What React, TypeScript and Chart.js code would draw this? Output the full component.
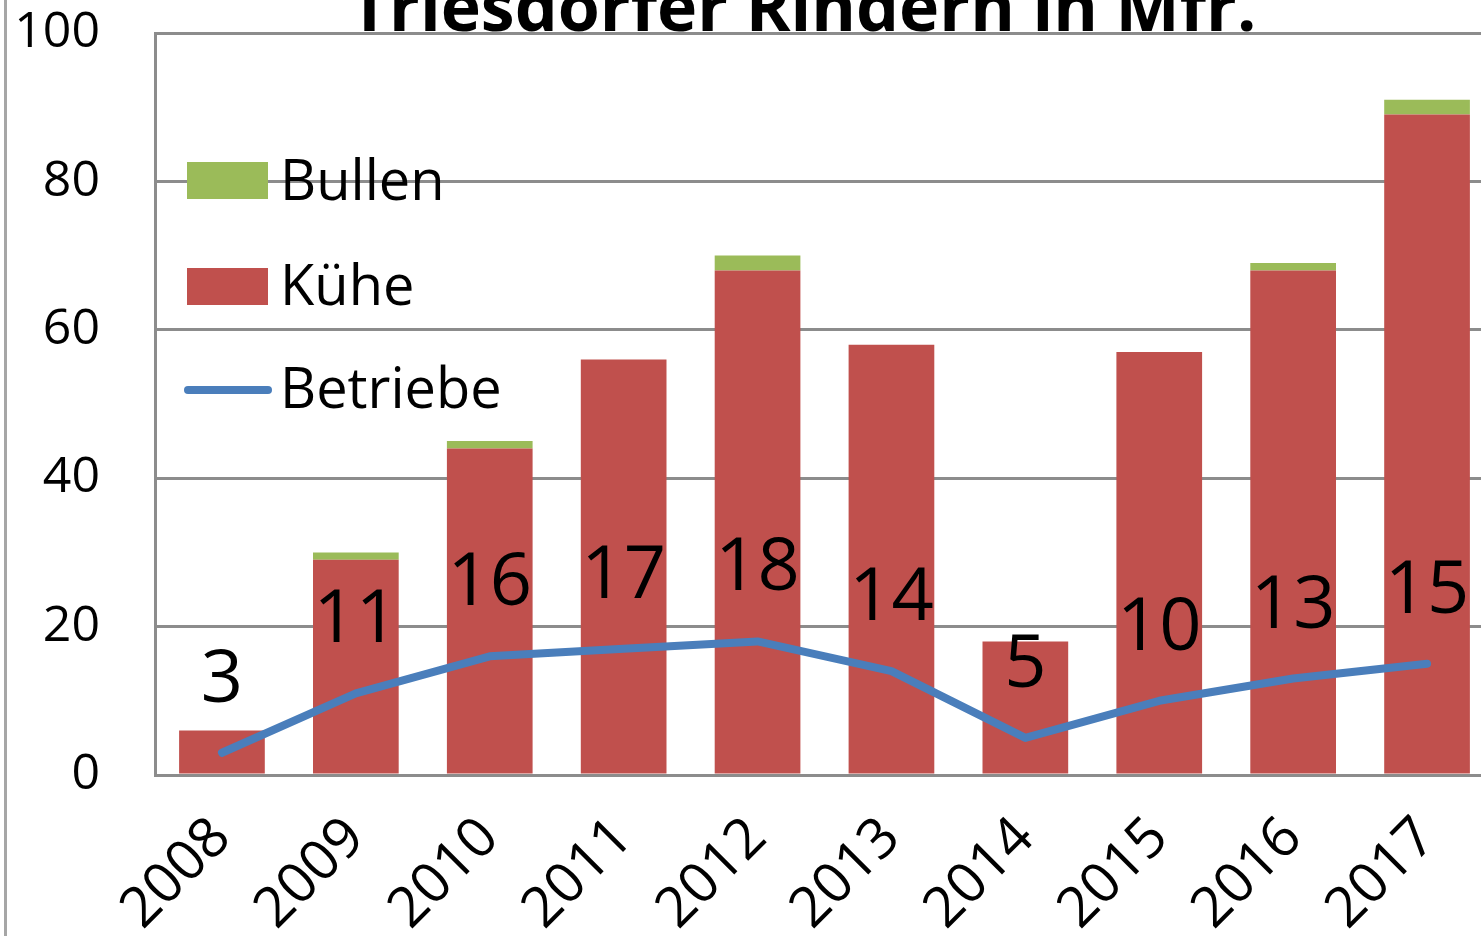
import React, { useEffect, useRef } from 'react';
import { Chart, registerables } from 'chart.js';

Chart.register(...registerables);

const chartTitle = 'Triesdorfer Rindern in Mfr.';
const years = ['2008', '2009', '2010', '2011', '2012', '2013', '2014', '2015', '2016', '2017'];
const kuehe = [6, 29, 44, 56, 68, 58, 18, 57, 68, 89];
const bullen = [0, 1, 1, 0, 2, 0, 0, 0, 1, 2];
const betriebe = [3, 11, 16, 17, 18, 14, 5, 10, 13, 15];
const yMin = 0;
const yMax = 100;
const yStep = 20;

const FONT = '"Open Sans", "Noto Sans", sans-serif';
const RED = '#c0504d';
const GREEN = '#9bbb59';
const BLUE = '#4a7ebb';
const GRID = '#8c8c8c';

const decorPlugin = {
  id: 'decor',
  afterDatasetsDraw(chart: any) {
    const ctx = chart.ctx;
    ctx.save();
    const meta = chart.getDatasetMeta(2);
    ctx.fillStyle = '#000';
    ctx.font = `74px ${FONT}`;
    ctx.textAlign = 'center';
    ctx.textBaseline = 'alphabetic';
    meta.data.forEach((pt: any, i: number) => {
      ctx.fillText(String(betriebe[i]), pt.x, pt.y - 51);
    });
    const items = [
      { label: 'Bullen', color: GREEN, type: 'box', y: 162, base: 200 },
      { label: 'Kühe', color: RED, type: 'box', y: 268, base: 305 },
      { label: 'Betriebe', color: BLUE, type: 'line', y: 390, base: 408 },
    ];
    ctx.textAlign = 'left';
    ctx.font = `56px ${FONT}`;
    items.forEach((it) => {
      if (it.type === 'box') {
        ctx.fillStyle = it.color;
        ctx.fillRect(187, it.y, 81, 37);
      } else {
        ctx.strokeStyle = it.color;
        ctx.lineWidth = 8;
        ctx.lineCap = 'round';
        ctx.beginPath();
        ctx.moveTo(188, it.y);
        ctx.lineTo(268, it.y);
        ctx.stroke();
      }
      ctx.fillStyle = '#000';
      ctx.fillText(it.label, 280, it.base);
    });
    ctx.restore();
  },
  afterDraw(chart: any) {
    const ctx = chart.ctx;
    ctx.save();
    ctx.fillStyle = '#000';
    ctx.font = `bold 68px ${FONT}`;
    ctx.textAlign = 'center';
    ctx.textBaseline = 'alphabetic';
    ctx.fillText(chartTitle, 803, 31);
    ctx.strokeStyle = '#a6a6a6';
    ctx.lineWidth = 3;
    ctx.beginPath();
    ctx.moveTo(5.5, 0);
    ctx.lineTo(5.5, 936);
    ctx.stroke();
    ctx.restore();
  },
};

export default function App() {
  const ref = useRef<HTMLCanvasElement>(null);
  useEffect(() => {
    if (!ref.current) return;
    const chart = new Chart(ref.current, {
      type: 'bar',
      data: {
        labels: years,
        datasets: [
          {
            type: 'bar',
            label: 'Kühe',
            data: kuehe,
            backgroundColor: RED,
            stack: 'tiere',
            barPercentage: 0.64,
            categoryPercentage: 1,
            order: 2,
          },
          {
            type: 'bar',
            label: 'Bullen',
            data: bullen,
            backgroundColor: GREEN,
            stack: 'tiere',
            barPercentage: 0.64,
            categoryPercentage: 1,
            order: 2,
          },
          {
            type: 'line',
            label: 'Betriebe',
            data: betriebe,
            borderColor: BLUE,
            backgroundColor: BLUE,
            borderWidth: 8,
            pointRadius: 0,
            tension: 0,
            borderCapStyle: 'round',
            borderJoinStyle: 'round',
            stack: 'betriebe',
            order: 0,
          } as any,
        ],
      },
      options: {
        responsive: false,
        animation: false,
        devicePixelRatio: 1,
        layout: { padding: { left: 0, top: 33, right: 6, bottom: 0 } },
        plugins: {
          legend: { display: false },
          tooltip: { enabled: false },
          title: { display: false },
        },
        scales: {
          x: {
            stacked: true,
            grid: { display: false, drawTicks: false },
            border: { display: true, color: GRID, width: 3 },
            ticks: {
              color: '#000',
              font: { family: FONT, size: 56 },
              maxRotation: 45,
              minRotation: 45,
              padding: 30,
              autoSkip: false,
            },
            afterFit: (s: any) => {
              s.height = 161;
              s.paddingLeft = 0;
              s.paddingRight = 0;
              s.paddingTop = 0;
              s.paddingBottom = 0;
            },
          },
          y: {
            stacked: true,
            min: yMin,
            max: yMax,
            grid: { color: GRID, lineWidth: 3, drawTicks: false },
            border: { display: true, color: GRID, width: 3 },
            ticks: {
              stepSize: yStep,
              color: '#000',
              font: { family: FONT, size: 50 },
              padding: 55,
            },
            afterFit: (s: any) => {
              s.width = 155;
              s.paddingTop = 0;
              s.paddingBottom = 0;
              s.paddingLeft = 0;
              s.paddingRight = 0;
            },
          },
        },
      },
      plugins: [decorPlugin],
    });
    return () => chart.destroy();
  }, []);
  return (
    <div style={{ position: 'fixed', left: 0, top: 0, width: 1481, height: 936, overflow: 'hidden', background: '#fff' }}>
      <canvas ref={ref} width={1500} height={936} style={{ width: 1500, height: 936, display: 'block' }} />
    </div>
  );
}
